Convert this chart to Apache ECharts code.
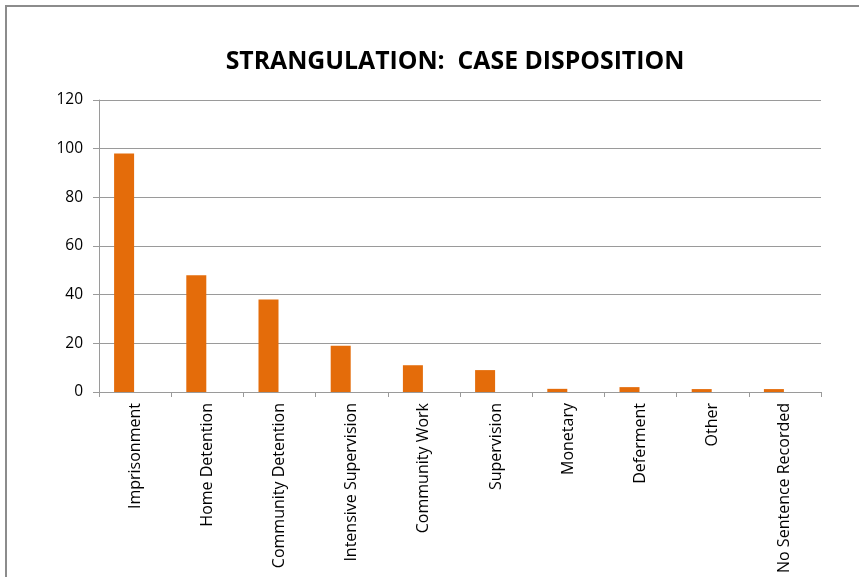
<!DOCTYPE html>
<html><head><meta charset="utf-8">
<script src="https://cdn.jsdelivr.net/npm/echarts@6/dist/echarts.min.js"></script>
<style>html,body{margin:0;padding:0;background:#fff}#c{width:859px;height:577px}
#frame{position:absolute;left:5px;top:5px;width:900px;height:700px;border:2px solid #8c8c8c;box-sizing:border-box;pointer-events:none}</style>
</head><body><div id="c"></div><div id="frame"></div>
<script>
const categories = ["Imprisonment","Home Detention","Community Detention","Intensive Supervision","Community Work","Supervision","Monetary","Deferment","Other","No Sentence Recorded"];
const values = [98,48,38,19,11,9,1.3,2,1.2,1.2];
const emptySeries = [null,null,null,null,null,null,null,null,null,null];
const yTicks = [0,20,40,60,80,100,120];
const chart = echarts.init(document.getElementById('c'));
chart.setOption({
  animation:false,
  title:{text:'STRANGULATION:  CASE DISPOSITION',left:450,top:44,textAlign:'center',
    textStyle:{fontFamily:'Open Sans',fontWeight:'bold',fontSize:24.8,color:'#000'}},
  grid:{left:99,right:38,top:100,bottom:185,containLabel:false},
  xAxis:{type:'category',data:categories,
    axisLine:{lineStyle:{color:'#9a9a9a',width:1}},
    axisTick:{show:true,length:5,lineStyle:{color:'#9a9a9a'},alignWithLabel:false},
    axisLabel:{rotate:90,interval:0,margin:11,fontFamily:'Open Sans',fontSize:16,color:'#000'}},
  yAxis:{type:'value',min:0,max:120,interval:20,
    axisLine:{show:true,lineStyle:{color:'#9a9a9a'}},
    axisTick:{show:true,length:6,lineStyle:{color:'#9a9a9a'}},
    splitLine:{lineStyle:{color:'#9a9a9a',width:1}},
    axisLabel:{margin:16,fontFamily:'Open Sans',fontSize:15.5,color:'#000',
      formatter:v=>yTicks.includes(v)?String(v):''}},
  series:[
    {type:'bar',name:'Cases',data:values,barWidth:20,barGap:'10%',itemStyle:{color:'#E46C0A'}},
    {type:'bar',name:'',data:emptySeries,barWidth:20,barGap:'10%'}
  ]
});
</script></body></html>
